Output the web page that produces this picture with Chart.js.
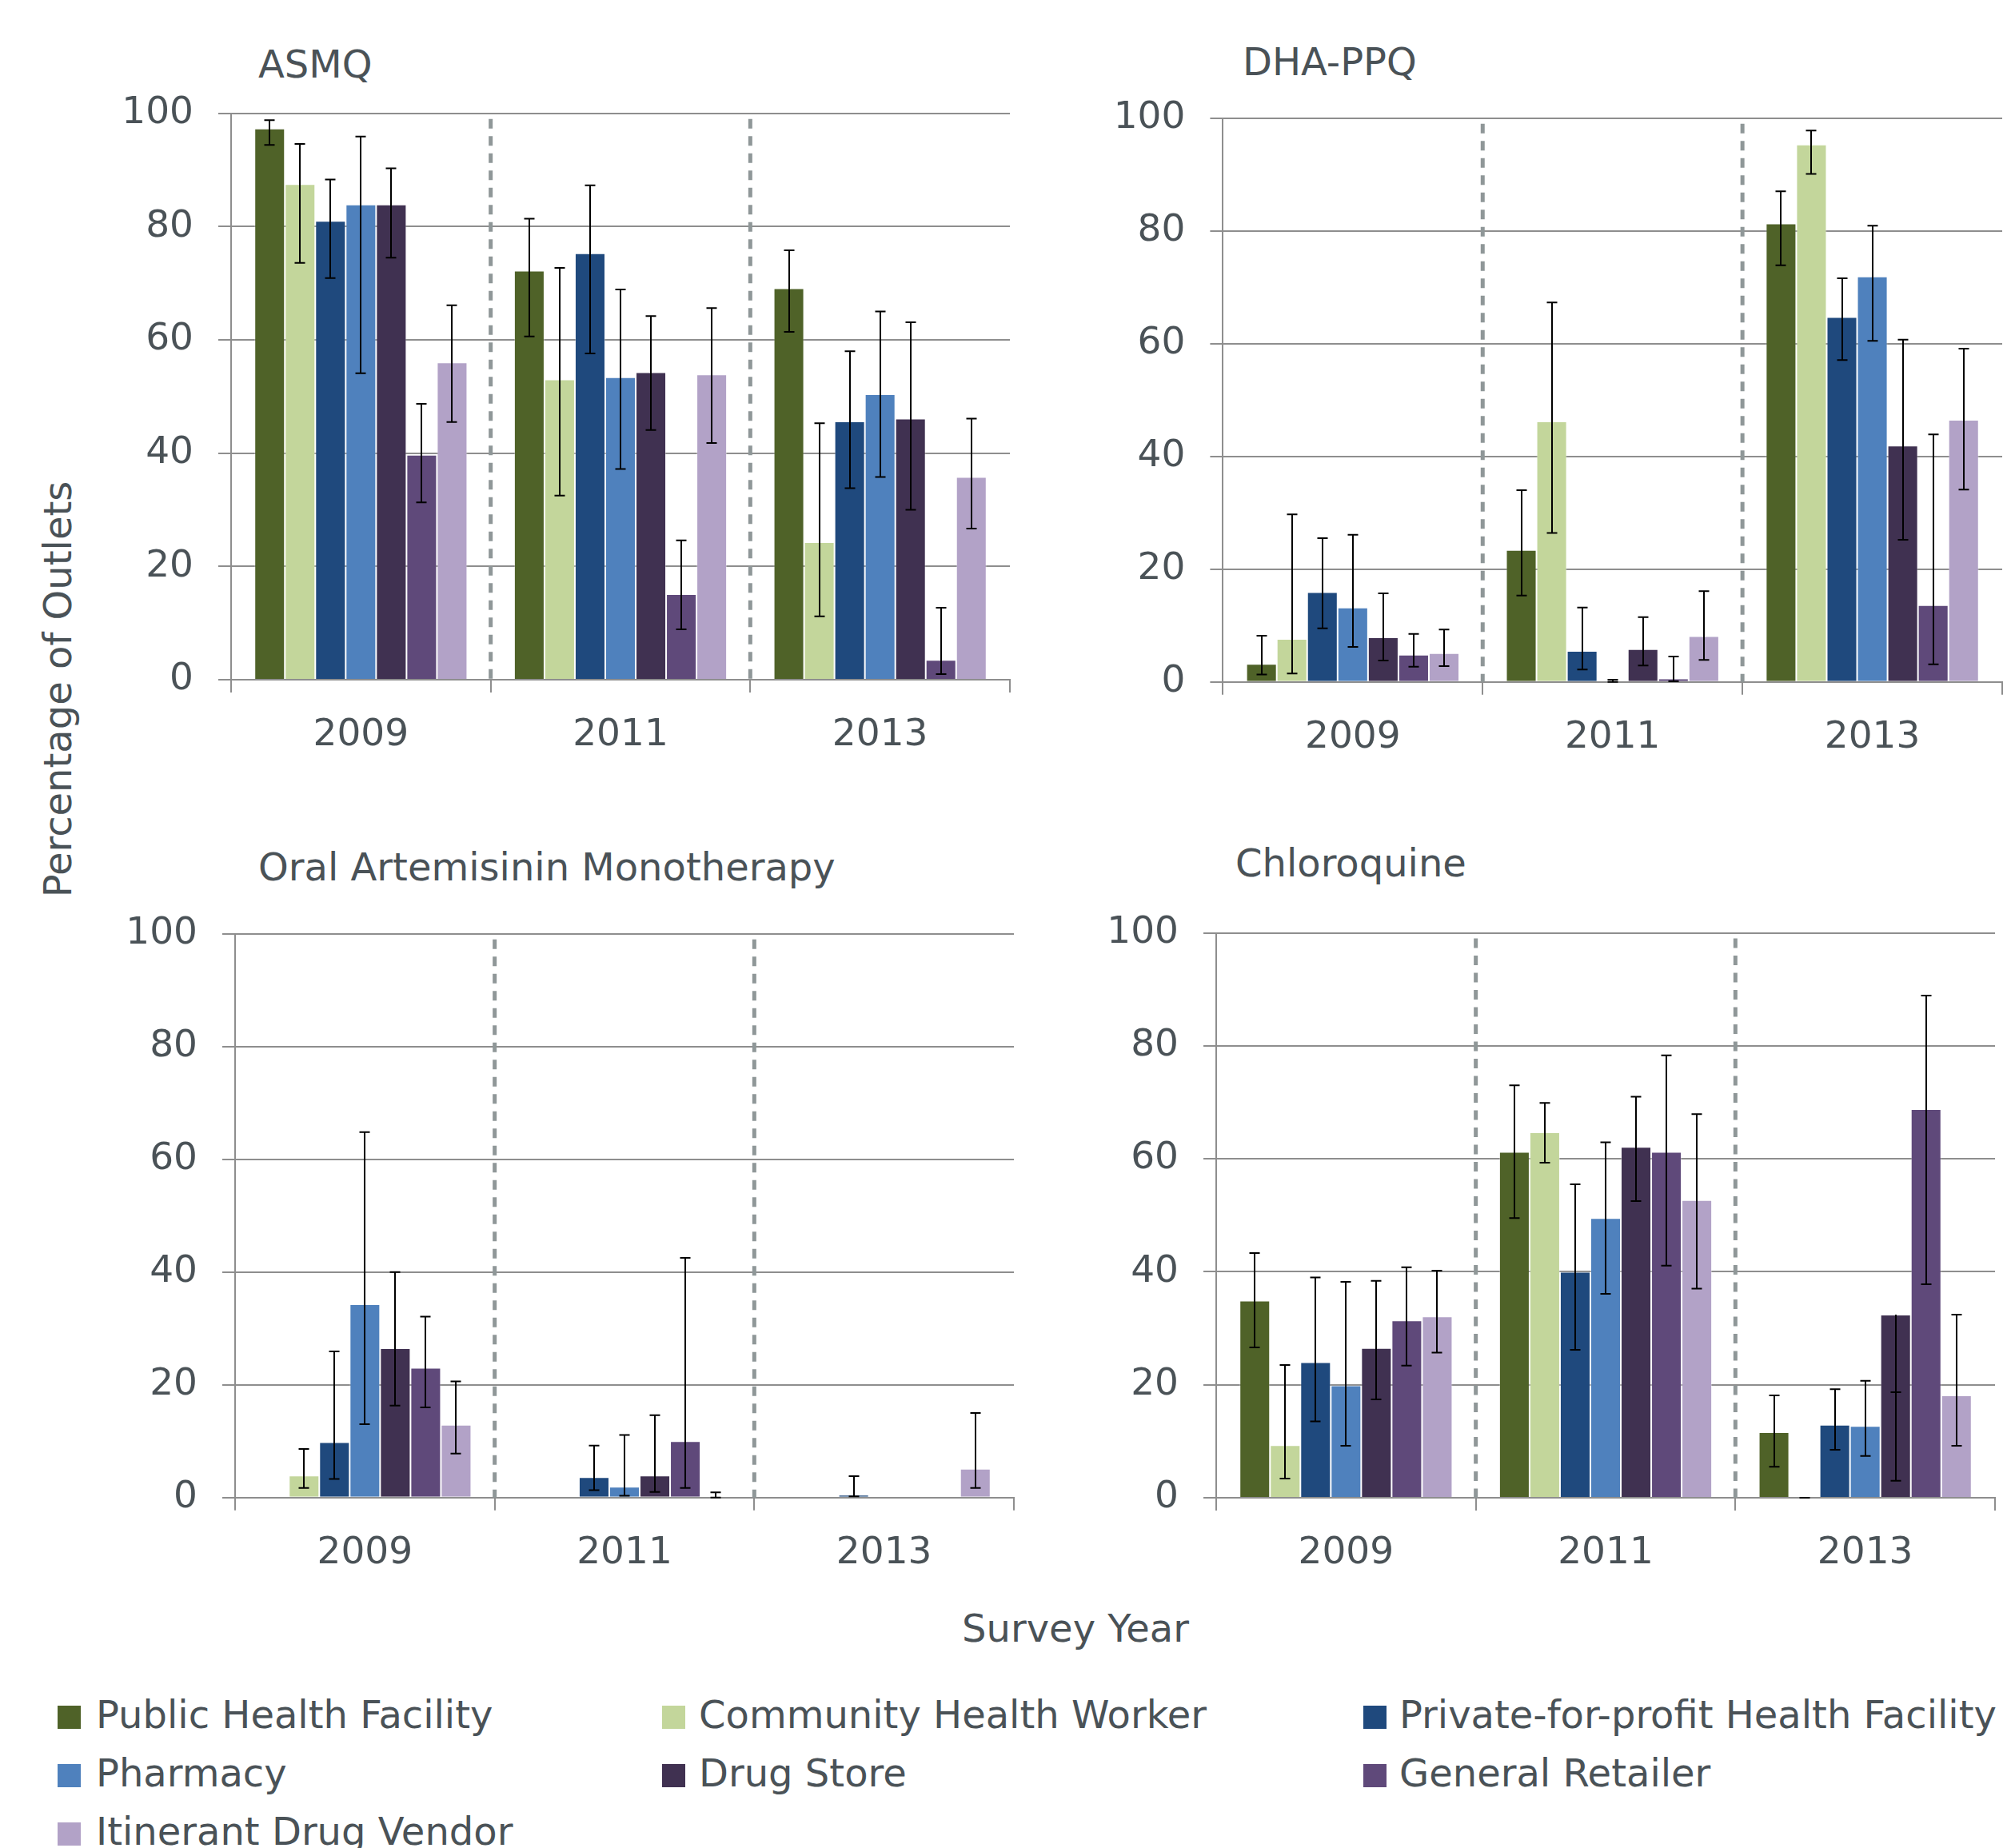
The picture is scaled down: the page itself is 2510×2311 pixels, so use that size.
<!DOCTYPE html>
<html>
<head>
<meta charset="utf-8">
<title>Outlet availability by survey year</title>
<script src="https://cdn.jsdelivr.net/npm/chart.js@4.4.4/dist/chart.umd.min.js"></script>
<style>
  html, body { margin: 0; padding: 0; background: #fff; }
  body {
    width: 2510px; height: 2311px; position: relative; overflow: hidden;
    font-family: 'DejaVu Sans', Verdana, sans-serif; color: #4a5257;
  }
  canvas { position: absolute; display: block; }
  .txt { position: absolute; font-size: 48px; line-height: 1; white-space: nowrap; }
  .swatch { position: absolute; width: 29px; height: 29px; }
</style>
</head>
<body>

<div class="txt" style="left:323px; top:56px;">ASMQ</div>
<div class="txt" style="left:1554px; top:53px;">DHA-PPQ</div>
<div class="txt" style="left:323px; top:1060px;">Oral Artemisinin Monotherapy</div>
<div class="txt" style="left:1545px; top:1055px;">Chloroquine</div>

<div class="txt" style="left:72px; top:862px; transform: translate(-50%, -50%) rotate(-90deg);">Percentage of Outlets</div>
<div class="txt" style="left:1345px; top:2012px; transform: translateX(-50%);">Survey Year</div>

<canvas id="cAsmq" width="1180" height="928" style="left:100px; top:72px;"></canvas>
<canvas id="cDha" width="1170" height="922" style="left:1340px; top:78px;"></canvas>
<canvas id="cOam" width="1175" height="902" style="left:105px; top:1098px;"></canvas>
<canvas id="cCq" width="1178" height="903" style="left:1332px; top:1097px;"></canvas>

<div id="legend"></div>

<script>
// ---- data ----
const years = ['2009', '2011', '2013'];
const outlets = [
  'Public Health Facility', 'Community Health Worker', 'Private-for-profit Health Facility',
  'Pharmacy', 'Drug Store', 'General Retailer', 'Itinerant Drug Vendor'
];
const yTicks = [0, 20, 40, 60, 80, 100];

// one row per outlet type, one column per survey year
const asmqPct  = [[97.3, 72.2, 69.1], [87.5, 53.0, 24.3], [81.0, 75.3, 45.6], [83.9, 53.4, 50.4], [83.9, 54.3, 46.1], [39.7, 15.1, 3.5], [56.0, 53.9, 35.8]];
const asmqLow  = [[94.4, 60.6, 61.4], [73.6, 32.5, 11.2], [70.9, 57.6, 33.8], [54.1, 37.2, 35.8], [74.5, 44.1, 30.0], [31.3, 8.9, 1.0], [45.5, 41.8, 26.7]];
const asmqHigh = [[98.8, 81.4, 75.8], [94.6, 72.7, 45.3], [88.3, 87.3, 58.0], [95.9, 68.9, 65.0], [90.3, 64.2, 63.1], [48.7, 24.6, 12.7], [66.1, 65.6, 46.1]];

const dhaPct  = [[3.2, 23.4, 81.3], [7.6, 46.2, 95.3], [15.9, 5.5, 64.7], [13.2, 0, 71.9], [7.9, 5.8, 41.9], [4.8, 0.6, 13.6], [5.1, 8.1, 46.5]];
const dhaLow  = [[1.3, 15.3, 73.9], [1.5, 26.4, 90.1], [9.5, 2.2, 57.1], [6.2, 0, 60.5], [3.8, 2.9, 25.2], [2.7, 0.1, 3.1], [2.8, 3.9, 34.1]];
const dhaHigh = [[8.2, 34.0, 87.0], [29.7, 67.3, 97.8], [25.5, 13.2, 71.6], [26.1, 0.4, 80.9], [15.7, 11.5, 60.7], [8.5, 4.5, 43.9], [9.3, 16.1, 59.1]];

const oamPct  = [[null, null, null], [3.9, null, null], [9.8, 3.6, 0.5], [34.3, 1.9, null], [26.5, 3.9, null], [23.0, 10.0, null], [12.9, 0, 5.1]];
const oamLow  = [[null, null, null], [1.7, null, null], [3.3, 1.3, 0.2], [13.0, 0.3, null], [16.3, 1.0, null], [16.0, 1.7, null], [7.8, 0, 1.7]];
const oamHigh = [[null, null, null], [8.6, null, null], [25.9, 9.2, 3.8], [64.8, 11.1, null], [40.0, 14.6, null], [32.1, 42.5, null], [20.6, 0.9, 15.0]];

const cqPct  = [[34.9, 61.2, 11.6], [9.3, 64.7, 0], [24.0, 40.0, 12.9], [19.9, 49.5, 12.7], [26.5, 62.1, 32.4], [31.4, 61.2, 68.8], [32.1, 52.7, 18.1]];
const cqLow  = [[26.6, 49.5, 5.5], [3.4, 59.3, 0], [13.5, 26.2, 8.5], [9.2, 36.1, 7.4], [17.4, 52.5, 3.0], [23.4, 41.1, 37.8], [25.7, 37.0, 9.2]];
const cqHigh = [[43.3, 73.0, 18.1], [23.5, 69.9, 0], [39.0, 55.5, 19.2], [38.2, 62.9, 20.7], [38.4, 71.0, 18.7], [40.8, 78.3, 88.9], [40.2, 67.9, 32.4]];

// ---- styles ----
const outletColors = ['#4f6228', '#c3d69b', '#1f497d', '#4f81bd', '#403151', '#5f497a', '#b2a2c7'];
const TEXT = '#4a5257';
const GRID = '#8e8e8e';
const FONT = "'DejaVu Sans', Verdana, sans-serif";

Chart.defaults.font.family = FONT;
Chart.defaults.color = TEXT;

// Excel-style error bars: whiskers run from the bar value to each bound
const errorBars = {
  id: 'errorBars',
  afterDatasetsDraw(chart) {
    const ctx = chart.ctx;
    const ys = chart.scales.y;
    ctx.save();
    ctx.strokeStyle = '#000';
    ctx.lineWidth = 2;
    chart.data.datasets.forEach((ds, i) => {
      const meta = chart.getDatasetMeta(i);
      meta.data.forEach((bar, j) => {
        const v = ds.data[j], lo = ds.errLow[j], hi = ds.errHigh[j];
        if (v == null || lo == null || hi == null) return;
        const x = Math.round(bar.x);
        const yv = ys.getPixelForValue(v);
        const yl = ys.getPixelForValue(lo);
        const yh = ys.getPixelForValue(hi);
        ctx.beginPath();
        ctx.moveTo(x, yv); ctx.lineTo(x, yl);
        ctx.moveTo(x, yv); ctx.lineTo(x, yh);
        ctx.moveTo(x - 6.5, yl); ctx.lineTo(x + 6.5, yl);
        ctx.moveTo(x - 6.5, yh); ctx.lineTo(x + 6.5, yh);
        ctx.stroke();
      });
    });
    ctx.restore();
  }
};

// dashed separators between survey years
const yearDividers = {
  id: 'yearDividers',
  beforeDatasetsDraw(chart) {
    const { ctx, chartArea } = chart;
    const xs = chart.scales.x;
    ctx.save();
    ctx.strokeStyle = '#8f9798';
    ctx.lineWidth = 5;
    ctx.setLineDash([12, 9.5]);
    for (let i = 1; i < xs.ticks.length; i++) {
      const px = (xs.getPixelForTick(i - 1) + xs.getPixelForTick(i)) / 2;
      ctx.beginPath();
      ctx.moveTo(px, chartArea.top + 7);
      ctx.lineTo(px, chartArea.bottom);
      ctx.stroke();
    }
    ctx.restore();
  }
};

function buildPanel(canvasId, pct, low, high, box) {
  const datasets = outlets.map((name, k) => ({
    label: name,
    data: pct[k],
    errLow: low[k],
    errHigh: high[k],
    backgroundColor: outletColors[k],
    borderColor: 'rgba(255,255,255,0.35)',
    borderWidth: 1,
    categoryPercentage: 0.82,
    barPercentage: 1.0
  }));

  return new Chart(document.getElementById(canvasId), {
    type: 'bar',
    data: { labels: years, datasets: datasets },
    options: {
      responsive: false,
      animation: false,
      devicePixelRatio: 1,
      layout: { padding: { top: box.top, right: box.right, bottom: 0, left: 0 } },
      plugins: { legend: { display: false }, tooltip: { enabled: false } },
      scales: {
        x: {
          offset: true,
          grid: { display: true, offset: true, drawOnChartArea: false, drawTicks: true, tickLength: 16, color: GRID, lineWidth: 2 },
          border: { display: true, color: GRID, width: 2 },
          ticks: { color: TEXT, font: { size: 47 }, padding: 26 },
          afterFit: s => { s.height = box.xH; }
        },
        y: {
          min: yTicks[0],
          max: yTicks[yTicks.length - 1],
          afterBuildTicks: s => { s.ticks = yTicks.map(v => ({ value: v })); },
          grid: { color: GRID, lineWidth: 2, tickLength: 16, drawTicks: true },
          border: { display: true, color: GRID, width: 2 },
          ticks: { color: TEXT, font: { size: 47 }, padding: 31 },
          afterFit: s => { s.width = box.yW; }
        }
      }
    },
    plugins: [yearDividers, errorBars]
  });
}

buildPanel('cAsmq', asmqPct, asmqLow, asmqHigh, { top: 69.7, right: 17, yW: 189, xH: 150 });
buildPanel('cDha', dhaPct, dhaLow, dhaHigh, { top: 69.7, right: 6, yW: 189.4, xH: 147.3 });
buildPanel('cOam', oamPct, oamLow, oamHigh, { top: 69.7, right: 12, yW: 189, xH: 127.3 });
buildPanel('cCq', cqPct, cqLow, cqHigh, { top: 69.5, right: 15, yW: 189, xH: 127 });

// shared legend, three columns
const legendCols = [{ sw: 72, tx: 120 }, { sw: 828, tx: 874 }, { sw: 1705, tx: 1750 }];
const legendRows = [2120, 2193, 2266];
const legend = document.getElementById('legend');
outlets.forEach((name, k) => {
  const col = legendCols[k % 3];
  const top = legendRows[Math.floor(k / 3)];
  const sw = document.createElement('div');
  sw.className = 'swatch';
  sw.style.left = col.sw + 'px';
  sw.style.top = (top + 13) + 'px';
  sw.style.background = outletColors[k];
  legend.appendChild(sw);
  const t = document.createElement('div');
  t.className = 'txt';
  t.style.left = col.tx + 'px';
  t.style.top = top + 'px';
  t.textContent = name;
  legend.appendChild(t);
});
</script>
</body>
</html>
